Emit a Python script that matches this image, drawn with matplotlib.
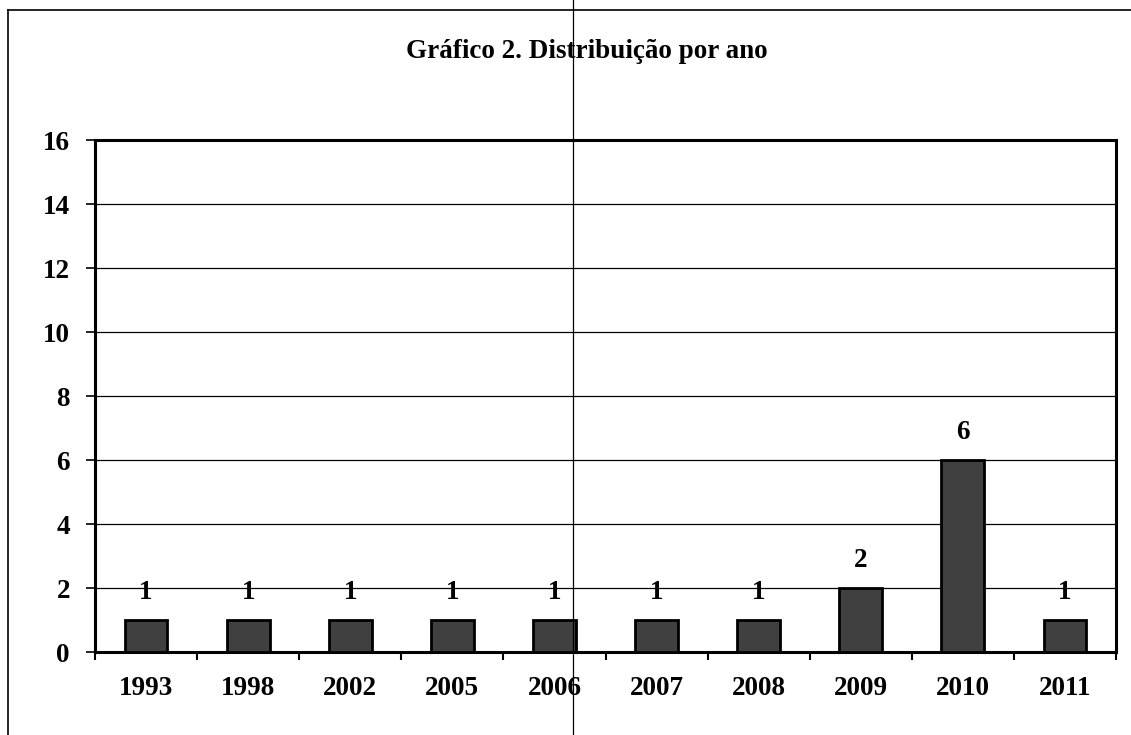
import matplotlib.pyplot as plt
from matplotlib.lines import Line2D
import numpy as np

years = ['1993', '1998', '2002', '2005', '2006', '2007', '2008', '2009', '2010', '2011']
counts = [1, 1, 1, 1, 1, 1, 1, 2, 6, 1]
title = 'Gráfico 2. Distribuição por ano'

plt.rcParams['font.family'] = ['Liberation Serif', 'DejaVu Serif']
plt.rcParams['font.weight'] = 'bold'

fig = plt.figure(figsize=(11.31, 7.35), dpi=100)
ax = fig.add_axes([95 / 1131, 83 / 735, 1021 / 1131, 512 / 735])

x = np.arange(len(years))
bars = ax.bar(x, counts, width=0.42, color='#404040', edgecolor='black', linewidth=2, zorder=3)
ax.bar_label(bars, padding=11, fontsize=19.5, fontweight='bold')

ax.set_xlim(-0.5, len(years) - 0.5)
ax.set_ylim(0, 16)
ax.set_yticks(range(0, 17, 2))
ax.yaxis.grid(True, color='black', linewidth=0.9, zorder=0)
ax.set_axisbelow(True)

# category labels at centres, tick marks at the boundaries
ax.set_xticks(x)
ax.set_xticklabels(years)
ax.set_xticks(np.arange(-0.5, len(years)), minor=True)
ax.tick_params(axis='x', which='major', length=0, pad=17, labelsize=19.5)
ax.tick_params(axis='x', which='minor', length=6, width=1.5, direction='out')
ax.tick_params(axis='y', length=6.5, width=1.2, pad=11.5, labelsize=19.5)
for lab in ax.get_xticklabels() + ax.get_yticklabels():
    lab.set_fontweight('bold')

for s in ax.spines.values():
    s.set_linewidth(2.2)

fig.text(587 / 1131, 1 - 52 / 735, title, ha='center', va='center', fontsize=19.5, fontweight='bold')

# outer frame (left and top edges visible) and stray vertical line
fig.add_artist(Line2D([8 / 1131, 8 / 1131], [0, 1 - 10 / 735], color='black', linewidth=1.2, transform=fig.transFigure))
fig.add_artist(Line2D([8 / 1131, 1], [1 - 10 / 735, 1 - 10 / 735], color='black', linewidth=1.2, transform=fig.transFigure))
fig.add_artist(Line2D([573 / 1131, 573 / 1131], [0, 1], color='black', linewidth=0.9, transform=fig.transFigure, zorder=10))

fig.savefig('out.png', dpi=100)
